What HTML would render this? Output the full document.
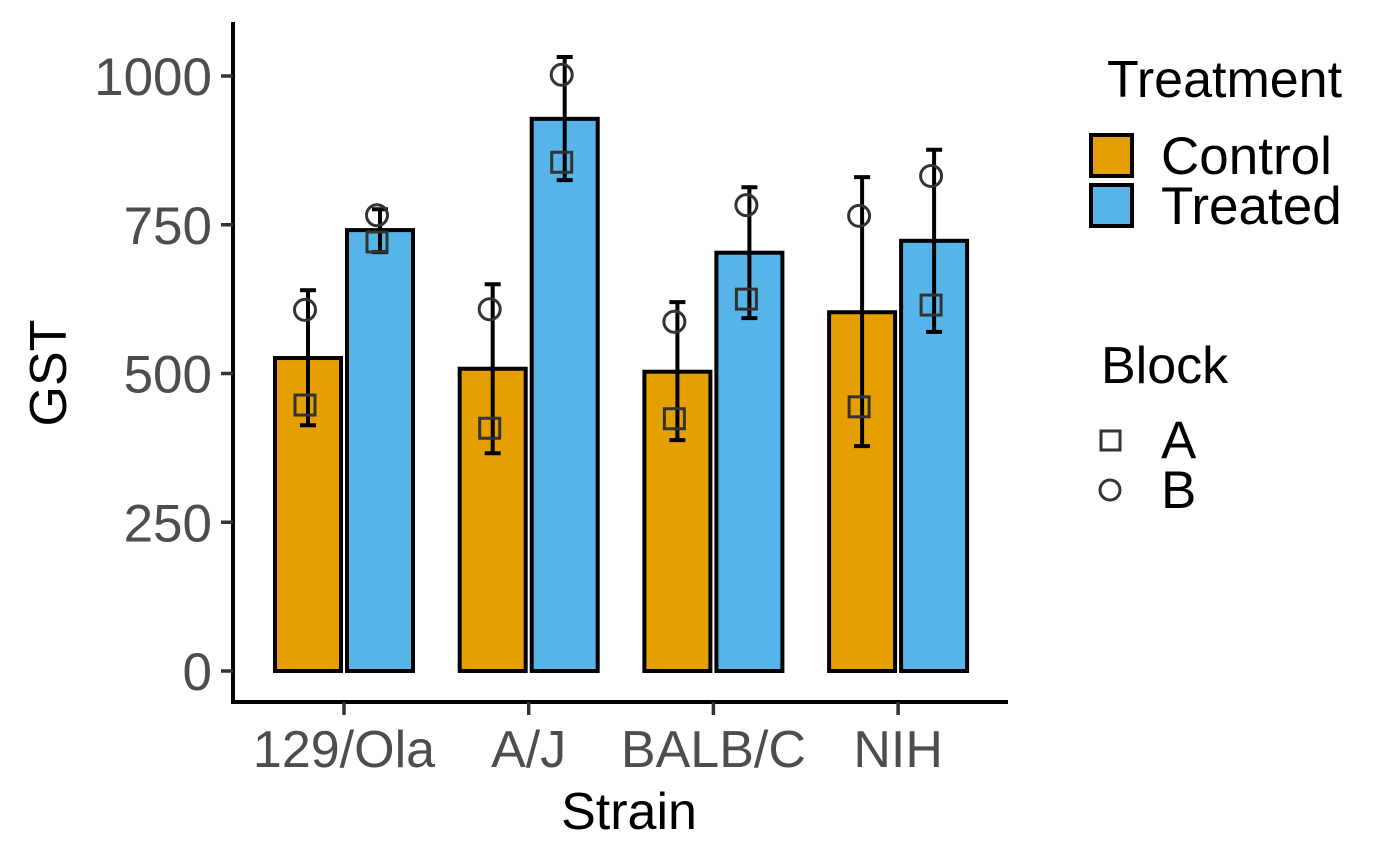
<!DOCTYPE html>
<html><head><meta charset="utf-8"><style>
html,body{margin:0;padding:0;background:#fff}
svg{display:block;font-family:"Liberation Sans",Arial,sans-serif}
</style></head><body>
<svg id="chart" width="1400" height="866">
<g id="plot"></g>
</svg>
<script>
const strains=["129/Ola","A/J","BALB/C","NIH"];
const controlMeans=[526,508,503,603];
const treatedMeans=[741,928,703,723];
const controlLow=[413,366,388,378];
const controlHigh=[640,650,620,830];
const treatedLow=[704,825,593,570];
const treatedHigh=[776,1032,813,876];
const controlA=[447,408,424,444];
const controlB=[607,608,587,765];
const treatedA=[721,855,625,615];
const treatedB=[766,1002,783,832];
const yTicks=[0,250,500,750,1000];

const NS="http://www.w3.org/2000/svg";
const g=document.getElementById('plot');
function y(v){return 671-v*0.595;}
function xc(i){return 344+i*184.7;}
function mk(t,a,p){const e=document.createElementNS(NS,t);for(const k in a)e.setAttribute(k,a[k]);(p||g).appendChild(e);return e;}

let ax=mk('line',{x1:233,y1:22,x2:233,y2:703,stroke:'#000','stroke-width':4});

ax=mk('line',{x1:231,y1:702,x2:1008,y2:702,stroke:'#000','stroke-width':4});


yTicks.forEach(v=>{
  const t=mk('line',{x1:221,x2:233,y1:y(v),y2:y(v),stroke:'#333','stroke-width':3.5});
  
  const l=mk('text',{x:212,y:y(v)+19,'text-anchor':'end','font-size':53,fill:'#4d4d4d'});l.textContent=v;
  
});
strains.forEach((s,i)=>{
  const t=mk('line',{x1:xc(i),x2:xc(i),y1:702,y2:715,stroke:'#333','stroke-width':3.5});
  
  const l=mk('text',{x:xc(i),y:767,'text-anchor':'middle','font-size':52,fill:'#4d4d4d'});l.textContent=s;
  
});
let tt=mk('text',{x:629,y:829,'text-anchor':'middle','font-size':52,fill:'#000'});tt.textContent='Strain';

tt=mk('text',{x:0,y:0,'text-anchor':'middle','font-size':52,fill:'#000',transform:'translate(66,373) rotate(-90)'});tt.textContent='GST';


function series(means,low,high,pa,pb,off,fill,name){
  means.forEach((m,i)=>{
    const cx=xc(i)+off;
    const b=mk('rect',{x:cx-33,y:y(m),width:66,height:y(0)-y(m),fill:fill,stroke:'#000','stroke-width':4});
    
    const e=mk('g',{stroke:'#000','stroke-width':4});
    
    mk('line',{x1:cx,x2:cx,y1:y(low[i]),y2:y(high[i])},e);
    mk('line',{x1:cx-8,x2:cx+8,y1:y(low[i]),y2:y(low[i])},e);
    mk('line',{x1:cx-8,x2:cx+8,y1:y(high[i]),y2:y(high[i])},e);
    const sq=mk('rect',{x:cx-3-10,y:y(pa[i])-10,width:20,height:20,fill:'none',stroke:'#333','stroke-width':3});
    
    const c=mk('circle',{cx:cx-3,cy:y(pb[i]),r:10.5,fill:'none',stroke:'#333','stroke-width':3});
    
  });
}
series(controlMeans,controlLow,controlHigh,controlA,controlB,-36,'#E69F00','control');
series(treatedMeans,treatedLow,treatedHigh,treatedA,treatedB,36,'#56B4E9','treated');

function txt(x,yy,s,sz,name){const t=mk('text',{x:x,y:yy,'font-size':sz,fill:'#000'});t.textContent=s;return t;}
txt(1107,97,'Treatment',52,'legend-treatment-title');
let r=mk('rect',{x:1091,y:135,width:41,height:41,fill:'#E69F00',stroke:'#000','stroke-width':4});

r=mk('rect',{x:1091,y:185,width:41,height:41,fill:'#56B4E9',stroke:'#000','stroke-width':4});

txt(1161,174,'Control',53,'legend-control-label');
txt(1161,224,'Treated',53,'legend-treated-label');
txt(1101,383,'Block',52,'legend-block-title');
r=mk('rect',{x:1101,y:431,width:19,height:19,fill:'none',stroke:'#333','stroke-width':3});

r=mk('circle',{cx:1110,cy:490,r:10,fill:'none',stroke:'#333','stroke-width':3});

txt(1161,458,'A',53,'legend-a-label');
txt(1161,508,'B',53,'legend-b-label');
</script>
</body></html>
